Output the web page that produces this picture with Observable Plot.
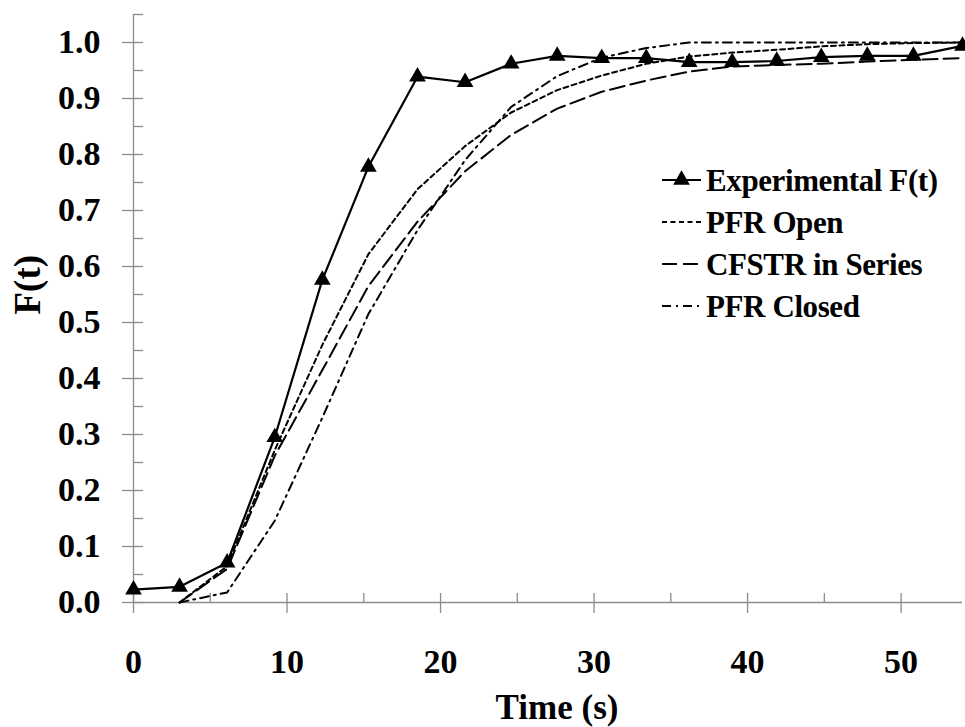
<!DOCTYPE html>
<html>
<head>
<meta charset="utf-8">
<script src="https://cdn.jsdelivr.net/npm/d3@7"></script>
<script src="https://cdn.jsdelivr.net/npm/@observablehq/plot@0.6"></script>
<style>
  html, body { margin: 0; padding: 0; background: #fff; }
  #chart { position: relative; width: 965px; height: 727px; }
  #chart svg { position: absolute; left: 0; top: 0; }
  #chart svg, #chart svg text { font-family: "Liberation Serif", "Times New Roman", Times, "DejaVu Serif", serif !important; font-weight: bold; }
</style>
</head>
<body>
<div id="chart"></div>
<script>
// Sampling times (s)
const times = [0, 3.0, 6.1, 9.2, 12.3, 15.3, 18.5, 21.6, 24.6, 27.6, 30.5, 33.4, 36.2, 39.0, 41.9, 44.8, 47.8, 50.8, 54.0];

// Measured cumulative distribution F(t)
const experimental = [0.023, 0.028, 0.071, 0.295, 0.576, 0.778, 0.939, 0.929, 0.962, 0.976, 0.972, 0.972, 0.965, 0.965, 0.967, 0.974, 0.976, 0.976, 0.994];

// Model predictions, evaluated from t = 3 s onward
const modelTimes = times.slice(1);
const pfrOpen     = [0.0, 0.065, 0.272, 0.460, 0.622, 0.738, 0.815, 0.875, 0.915, 0.941, 0.962, 0.975, 0.982, 0.987, 0.993, 0.997, 0.999, 1.0];
const cfstrSeries = [0.0, 0.060, 0.262, 0.415, 0.565, 0.680, 0.770, 0.835, 0.882, 0.912, 0.932, 0.948, 0.957, 0.960, 0.962, 0.966, 0.969, 0.972];
const pfrClosed   = [0.0, 0.018, 0.146, 0.330, 0.515, 0.665, 0.790, 0.885, 0.940, 0.973, 0.990, 1.0, 1.0, 1.0, 1.0, 1.0, 1.0, 1.0];

// Series names, in legend order
const seriesNames = ["Experimental F(t)", "PFR Open", "CFSTR in Series", "PFR Closed"];

// Axis ticks
const yTicks = [0, 0.1, 0.2, 0.3, 0.4, 0.5, 0.6, 0.7, 0.8, 0.9, 1.0];
const yMinorTicks = [0.05, 0.15, 0.25, 0.35, 0.45, 0.55, 0.65, 0.75, 0.85, 0.95, 1.05];
const xTicks = [0, 10, 20, 30, 40, 50];
const xMinorTicks = [5, 15, 25, 35, 45];

// Line styles per series
const dashes = {
  "Experimental F(t)": null,
  "PFR Open": "5,3.5",
  "CFSTR in Series": "15,6",
  "PFR Closed": "9,5,2,5"
};

const expRows = times.map((t, i) => ({t, F: experimental[i]}));
const modelValues = {"PFR Open": pfrOpen, "CFSTR in Series": cfstrSeries, "PFR Closed": pfrClosed};
const modelRows = Object.entries(modelValues).flatMap(([name, vals]) =>
  modelTimes.map((t, i) => ({series: name, t, F: vals[i]})));

const axisColor = "#8c8c8c";
const serif = '"Liberation Serif", "Times New Roman", Times, "DejaVu Serif", serif';
const markerR = 6.2;

const modelLines = Object.keys(modelValues).map(name =>
  Plot.line(modelRows.filter(d => d.series === name), {
    x: "t", y: "F", stroke: "black", strokeWidth: 2, strokeDasharray: dashes[name]
  }));

const chart = Plot.plot({
  width: 965,
  height: 727,
  marginLeft: 133,
  marginRight: 3,
  marginTop: 14,
  marginBottom: 125,
  style: {fontFamily: serif, fontWeight: "bold", background: "white", color: "black"},
  x: {domain: [0, 54]},
  y: {domain: [0, 1.05]},
  marks: [
    // axis lines
    Plot.ruleY([0], {stroke: axisColor, strokeWidth: 1.3}),
    Plot.ruleX([0], {stroke: axisColor, strokeWidth: 1.3}),
    // y ticks: major cross the axis, minor point inward
    Plot.axisY(yTicks, {fill: "none", stroke: axisColor, strokeWidth: 1.3, tickSize: 21, dx: 10, label: null}),
    Plot.axisY(yMinorTicks, {fill: "none", stroke: axisColor, strokeWidth: 1.3, tickSize: 10, dx: 10, label: null}),
    Plot.axisY(yTicks, {tickSize: 0, tickPadding: 33, tickFormat: d => d.toFixed(1), fontSize: 34, label: null}),
    // x ticks
    Plot.axisX(xTicks, {fill: "none", stroke: axisColor, strokeWidth: 1.3, tickSize: 20, dy: -9, label: null}),
    Plot.axisX(xMinorTicks, {fill: "none", stroke: axisColor, strokeWidth: 1.3, tickSize: 9, dy: -9, label: null}),
    Plot.axisX(xTicks, {tickSize: 0, tickPadding: 46, fontSize: 34, label: null}),
    // model curves
    ...modelLines,
    // measurements
    Plot.line(expRows, {x: "t", y: "F", stroke: "black", strokeWidth: 2.2}),
    Plot.dot(expRows, {x: "t", y: "F", symbol: "triangle", r: markerR, fill: "black", stroke: "none"}),
    // axis titles
    Plot.text(["F(t)"], {frameAnchor: "left", dx: -105, dy: 6, rotate: -90, fontSize: 37}),
    Plot.text(["Time (s)"], {frameAnchor: "bottom", dx: 9, dy: 116, fontSize: 35})
  ]
});

const host = document.getElementById("chart");
host.appendChild(chart);

// Legend placed over the upper right of the plot area
const legend = d3.create("svg")
  .attr("width", 965).attr("height", 727);

const lx0 = 662, lx1 = 701, textX = 706, rowY0 = 180, rowStep = 42;
seriesNames.forEach((name, i) => {
  const y = rowY0 + i * rowStep;
  const g = legend.append("g");
  g.append("line")
    .attr("x1", lx0).attr("x2", lx1).attr("y1", y).attr("y2", y)
    .attr("stroke", "black").attr("stroke-width", 2)
    .attr("stroke-dasharray", dashes[name]);
  if (name === "Experimental F(t)") {
    g.append("path")
      .attr("transform", `translate(${(lx0 + lx1) / 2},${y})`)
      .attr("d", d3.symbol(d3.symbolTriangle, markerR * markerR * Math.PI)());
  }
  g.append("text")
    .attr("x", textX).attr("y", y).attr("dy", "0.35em")
    .attr("font-size", 31)
    .attr("letter-spacing", "-0.4")
    .text(name);
});
host.appendChild(legend.node());
</script>
</body>
</html>
